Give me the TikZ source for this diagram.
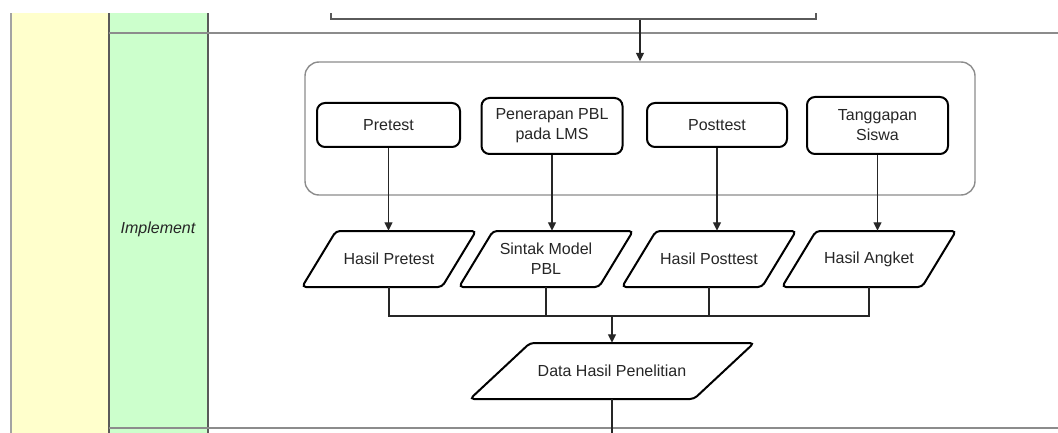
\documentclass[tikz,border=0pt]{standalone}
\usepackage{fontspec}
\setmainfont{Liberation Sans}
\usetikzlibrary{arrows.meta,calc}
\definecolor{laneyellow}{HTML}{FFFFCC}
\definecolor{lanegreen}{HTML}{CCFFCC}
\definecolor{ink}{HTML}{262626}
\definecolor{rule}{HTML}{8C8C8C}
\definecolor{edge}{HTML}{5A5A5A}

% data (input/output) box: name, centre x, centre y, half edge, half skew, half height, text
\newcommand\iobox[7]{%
  \node[iotext, minimum height=2*#6] (#1) at (#2,#3) {#7};
  \draw[ioshape] (#2-#4+#5,#3-#6) -- (#2+#4+#5,#3-#6) -- (#2+#4-#5,#3+#6)
     -- (#2-#4-#5,#3+#6) -- cycle;
}

\begin{document}
\begin{tikzpicture}[x=1pt,y=-1pt,
  every node/.style={font=\fontsize{16}{20}\selectfont, text=ink},
  procbox/.style={draw=black, line width=2pt, rounded corners=8pt, align=center, inner sep=0pt},
  iotext/.style={align=center, inner sep=0pt, minimum width=100pt},
  ioshape/.style={draw=black, line width=2pt, rounded corners=4pt},
  link/.style={draw=black!85, line width=1.3pt},
  arrow/.style={link, -{Triangle[length=8.5pt,width=8pt]}},
  lane/.style={draw=rule, line width=1.3pt},
]
\useasboundingbox[fill=white] (0,0) rectangle (1058,433);
\clip (0,14) rectangle (1058,433);

% lanes
\fill[laneyellow] (11,0) rectangle (109,440);
\fill[lanegreen] (109,0) rectangle (208,440);
\draw[draw=rule!80, line width=1.2pt] (11,0) -- (11,440);
\draw[draw=edge, line width=1.3pt] (109,0) -- (109,440);
\draw[draw=edge, line width=1.3pt] (208,0) -- (208,440);
\draw[lane] (109,33) -- (1058,33);
\draw[lane] (109,428) -- (1058,428);
\node[font=\fontsize{16}{20}\selectfont\itshape] (phase) at (158,229) {Implement};

% preceding step (cut off at the top)
\node[draw=edge, line width=1.4pt, minimum width=485pt, minimum height=40pt] (prev) at (573.5,-1) {};

% activity group
\node[draw=rule, line width=1.4pt, rounded corners=14pt, minimum width=670pt, minimum height=133pt] (grp) at (640,128.5) {};

% activities
\node[procbox, minimum width=143pt, minimum height=44pt] (pre) at (388.5,125) {Pretest};
\node[procbox, minimum width=141pt, minimum height=56pt] (pbl) at (552,126) {Penerapan PBL\\pada LMS};
\node[procbox, minimum width=140pt, minimum height=44pt] (post) at (717,125) {Posttest};
\node[procbox, minimum width=141pt, minimum height=57pt] (resp) at (877.5,125.5) {Tanggapan\\Siswa};

% results
\iobox{hpre}{389}{259}{70}{17}{28}{Hasil Pretest}
\iobox{sint}{546}{259}{70}{17}{28}{Sintak Model\\PBL}
\iobox{hpost}{709}{259}{70}{17}{28}{Hasil Posttest}
\iobox{hang}{869}{259}{70}{17}{28}{Hasil Angket}
\iobox{dat}{612}{371}{112}{30}{28}{Data Hasil Penelitian}

\coordinate (join) at (612,316);
\coordinate (down) at (612,440);

% connectors
\draw[arrow] (prev.south -| grp.north) -- (grp.north);
\draw[arrow] (pre.south) -- (pre.south |- hpre.north);
\draw[arrow] (pbl.south) -- (pbl.south |- sint.north);
\draw[arrow] (post.south) -- (post.south |- hpost.north);
\draw[arrow] (resp.south) -- (resp.south |- hang.north);

\draw[link] (hpre.south) -- (hpre.south |- join) -- (hang.south |- join) -- (hang.south);
\draw[link] (sint.south) -- (sint.south |- join);
\draw[link] (hpost.south) -- (hpost.south |- join);
\draw[arrow] (join) -- (dat.north);
\draw[link] (dat.south) -- (down);
\end{tikzpicture}
\end{document}
